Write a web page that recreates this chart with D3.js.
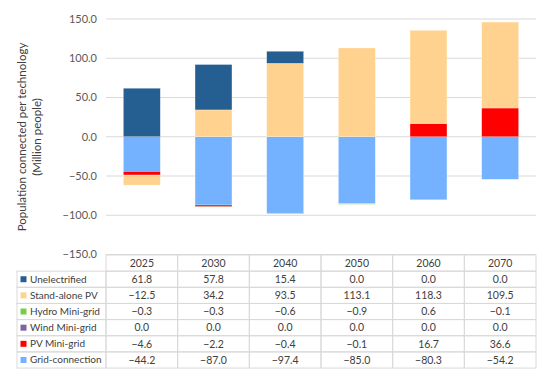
<!DOCTYPE html>
<html><head><meta charset="utf-8">
<script src="https://cdn.jsdelivr.net/npm/d3@7"></script>
<style>body{margin:0;background:#fff;} svg{display:block;font-family:Lato,"Open Sans",sans-serif;}</style>
</head><body><svg id="c" width="550" height="377"></svg>
<script>
const years = ["2025","2030","2040","2050","2060","2070"];
const seriesNames = ["Unelectrified","Stand-alone PV","Hydro Mini-grid","Wind Mini-grid","PV Mini-grid","Grid-connection"];
const unelectrified = [61.8,57.8,15.4,0.0,0.0,0.0];
const standalonePV = [-12.5,34.2,93.5,113.1,118.3,109.5];
const hydroMini = [-0.3,-0.3,-0.6,-0.9,0.6,-0.1];
const windMini = [0.0,0.0,0.0,0.0,0.0,0.0];
const pvMini = [-4.6,-2.2,-0.4,-0.1,16.7,36.6];
const gridConn = [-44.2,-87.0,-97.4,-85.0,-80.3,-54.2];
const yTicks = [-150,-100,-50,0,50,100,150];
const colors = ["#255E91","#FFD38F","#7CCB48","#8064A2","#FF0000","#74B2FF"];
const values = [unelectrified,standalonePV,hydroMini,windMini,pvMini,gridConn];

(function(){
const svg = d3.select("#c");
const pL = 106, pR = 536, pT = 19, pB = 254.5;
const x = d3.scaleBand().domain(years).range([pL,pR]).paddingInner(0.485).paddingOuter(0.2425);
const y = d3.scaleLinear().domain([-150,150]).range([pB,pT]);

svg.append("g").selectAll("line").data(yTicks).join("line")
  .attr("x1",pL).attr("x2",pR).attr("y1",d=>y(d)).attr("y2",d=>y(d))
  .attr("stroke","#d9d9d9").attr("stroke-width",1);

const fmt = v => (v<0?"\u2212":"") + Math.abs(v).toFixed(1);
svg.append("g").selectAll("text").data(yTicks).join("text")
  .attr("x",97).attr("y",d=>y(d)).attr("dy","0.35em").attr("text-anchor","end")
  .attr("font-size",11).attr("fill","#595959").text(fmt);

const tg = svg.append("g").attr("transform","translate(25.5,137) rotate(-90)");
tg.append("text").attr("text-anchor","middle").attr("y",0).attr("font-size",11.5).attr("fill","#404040").text("Population connected per technology");
tg.append("text").attr("text-anchor","middle").attr("y",15).attr("font-size",11.5).attr("fill","#404040").text("(Million people)");

const rows = years.map((yr,i)=>{const o={year:yr}; seriesNames.forEach((s,k)=>o[s]=values[k][i]); return o;});
const stackOrder = seriesNames.slice().reverse();
const stack = d3.stack().keys(stackOrder).offset(d3.stackOffsetDiverging)(rows);
const colorOf = d3.scaleOrdinal().domain(seriesNames).range(colors);

svg.append("g").selectAll("g").data(stack).join("g")
  .attr("fill",d=>colorOf(d.key))
  .selectAll("rect").data(d=>d).join("rect")
  .attr("x",d=>x(d.data.year)).attr("width",x.bandwidth())
  .attr("y",d=>y(Math.max(d[0],d[1]))).attr("height",d=>Math.abs(y(d[0])-y(d[1])))
  .attr("stroke","rgba(255,255,255,0.5)").attr("stroke-width",0.5);

const tTop = 255, rowH = 16.15, tLeft = 17;
const colW = x.step();
const tbl = svg.append("g");
const gridC = "#d9d9d9";
years.forEach((yr,i)=>{
  const cx = pL + i*colW;
  tbl.append("rect").attr("x",cx).attr("y",tTop).attr("width",colW).attr("height",rowH).attr("fill","none").attr("stroke",gridC);
  tbl.append("text").attr("x",cx+colW/2).attr("y",tTop+rowH/2).attr("dy","0.35em").attr("text-anchor","middle").attr("font-size",10.5).attr("fill","#404040").text(yr);
});
seriesNames.forEach((s,k)=>{
  const ry = tTop + rowH*(k+1);
  tbl.append("rect").attr("x",tLeft).attr("y",ry).attr("width",pL-tLeft).attr("height",rowH).attr("fill","none").attr("stroke",gridC);
  tbl.append("rect").attr("x",tLeft+3.5).attr("y",ry+rowH/2-3).attr("width",6).attr("height",6).attr("fill",colors[k]);
  tbl.append("text").attr("x",tLeft+13).attr("y",ry+rowH/2).attr("dy","0.35em").attr("font-size",10).attr("fill","#404040").text(s);
  years.forEach((yr,i)=>{
    const cx = pL + i*colW;
    tbl.append("rect").attr("x",cx).attr("y",ry).attr("width",colW).attr("height",rowH).attr("fill","none").attr("stroke",gridC);
    tbl.append("text").attr("x",cx+colW/2).attr("y",ry+rowH/2).attr("dy","0.35em").attr("text-anchor","middle").attr("font-size",10.5).attr("fill","#404040").text(fmt(values[k][i]));
  });
});
})();
</script></body></html>
